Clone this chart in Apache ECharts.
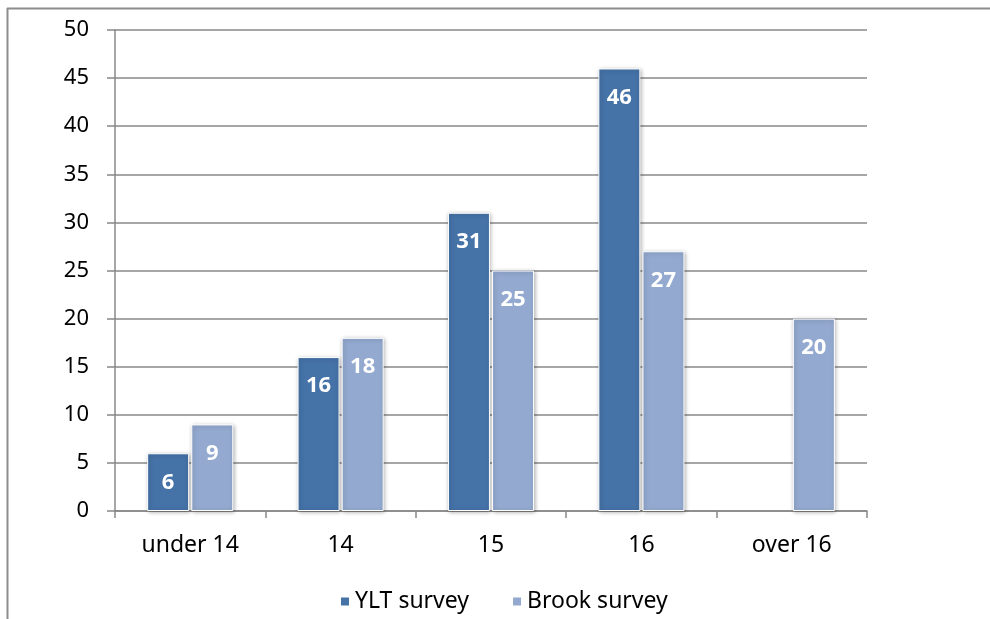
<!DOCTYPE html>
<html><head><meta charset="utf-8">
<script src="https://cdn.jsdelivr.net/npm/echarts@6/dist/echarts.min.js"></script>
<style>html,body{margin:0;padding:0;background:#fff}#c{width:990px;height:619px}</style>
</head><body><div id="c"></div>
<script>
var categories = ['under 14', '14', '15', '16', 'over 16'];
var yltSurvey = [6, 16, 31, 46, null];
var brookSurvey = [9, 18, 25, 27, 20];
var seriesNames = ['YLT survey', 'Brook survey'];

var font = '"Noto Sans", sans-serif';
var chart = echarts.init(document.getElementById('c'));
var labelStyle = {show: true, position: 'insideTop', distance: 18, color: '#fff', fontWeight: 'bold', fontSize: 22, fontFamily: font};
chart.setOption({
  animation: false,
  graphic: [
    {type: 'line', shape: {x1: 7, y1: 8.5, x2: 990, y2: 8.5}, style: {stroke: '#8c8c8c', lineWidth: 2}, silent: true},
    {type: 'line', shape: {x1: 7.5, y1: 8, x2: 7.5, y2: 619}, style: {stroke: '#8c8c8c', lineWidth: 2}, silent: true}
  ],
  grid: {left: 115, right: 123, top: 30, bottom: 108},
  legend: {left: 334, top: 585, itemWidth: 10, itemHeight: 10, itemGap: 42, icon: 'rect',
    textStyle: {fontSize: 23, fontFamily: font, color: '#000'}, data: seriesNames},
  xAxis: {type: 'category', data: categories,
    axisLine: {lineStyle: {color: '#888', width: 1.5}},
    axisTick: {show: true, length: 7, lineStyle: {color: '#888', width: 1.5}},
    axisLabel: {color: '#000', fontSize: 23, fontFamily: font, margin: 23}},
  yAxis: {type: 'value', min: 0, max: 50, interval: 5,
    axisLine: {show: true, lineStyle: {color: '#888', width: 1.5}},
    axisTick: {show: true, length: 8, lineStyle: {color: '#888', width: 1.5}},
    splitLine: {lineStyle: {color: '#888', width: 1.5}},
    axisLabel: {color: '#000', fontSize: 22, fontFamily: font, margin: 26}},
  series: [
    {name: seriesNames[0], type: 'bar', data: yltSurvey, barWidth: 42, barGap: '5%',
      itemStyle: {color: '#4572A7', borderColor: '#fff', borderWidth: 1, shadowColor: 'rgba(0,0,0,0.3)', shadowBlur: 4, shadowOffsetX: 1, shadowOffsetY: 1},
      label: labelStyle},
    {name: seriesNames[1], type: 'bar', data: brookSurvey, barWidth: 42,
      itemStyle: {color: '#93A9CF', borderColor: '#fff', borderWidth: 1, shadowColor: 'rgba(0,0,0,0.3)', shadowBlur: 4, shadowOffsetX: 1, shadowOffsetY: 1},
      label: labelStyle}
  ]
});
</script></body></html>
